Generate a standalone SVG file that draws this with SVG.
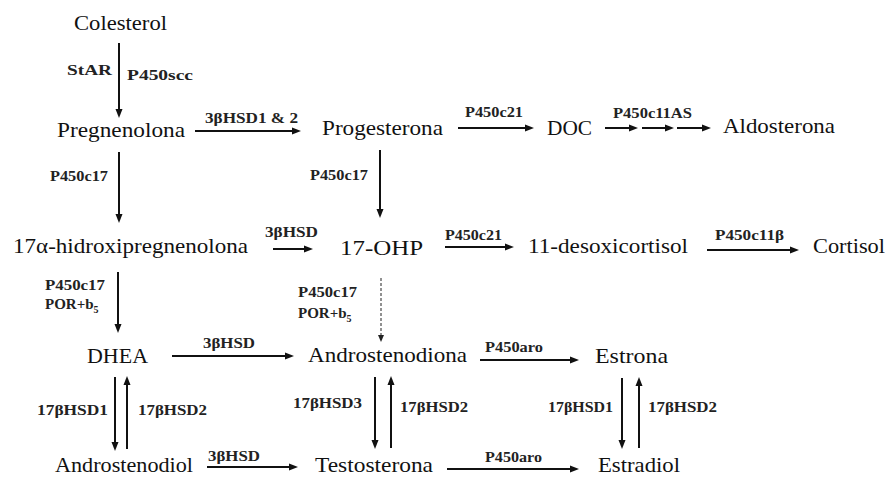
<svg xmlns="http://www.w3.org/2000/svg" width="888" height="478" viewBox="0 0 888 478">
<defs>
<marker id="ah" markerUnits="userSpaceOnUse" markerWidth="10" markerHeight="8" refX="1" refY="4" orient="auto">
<path d="M0,0.5 L9,4 L0,7.5 z" fill="#111"/>
</marker>
<marker id="ahs" markerUnits="userSpaceOnUse" markerWidth="8" markerHeight="8" refX="1" refY="4" orient="auto">
<path d="M0,1 L7,4 L0,7 z" fill="#222"/>
</marker>
<style>
text{font-family:'Liberation Serif','DejaVu Serif','Noto Serif','Times New Roman',serif}
.n{font-size:22px;fill:#111}
.e{font-size:15px;font-weight:bold;fill:#222}
.a{stroke:#111;stroke-width:2;fill:none;marker-end:url(#ah)}
.d{stroke:#222;stroke-width:1;fill:none;stroke-dasharray:3,2;marker-end:url(#ahs)}
</style>
</defs>
<rect width="888" height="478" fill="#fff"/>
<g id="connectors">
<line class="a" x1="119" y1="43" x2="119" y2="110"/>
<line class="a" x1="195" y1="131" x2="293" y2="131"/>
<line class="a" x1="458" y1="128" x2="526" y2="128"/>
<line class="a" x1="605" y1="128" x2="630" y2="128"/>
<line class="a" x1="642" y1="128" x2="666" y2="128"/>
<line class="a" x1="677" y1="128" x2="703" y2="128"/>
<line class="a" x1="119" y1="152" x2="119" y2="215"/>
<line class="a" x1="380" y1="150" x2="380" y2="210"/>
<line class="a" x1="273" y1="249" x2="305" y2="249"/>
<line class="a" x1="445" y1="247" x2="506" y2="247"/>
<line class="a" x1="707" y1="250" x2="791" y2="250"/>
<line class="a" x1="118" y1="272" x2="118" y2="325"/>
<line class="d" x1="381" y1="278" x2="381" y2="336"/>
<line class="a" x1="172" y1="356" x2="286" y2="356"/>
<line class="a" x1="480" y1="360" x2="571" y2="360"/>
<line class="a" x1="115" y1="377" x2="115" y2="443"/>
<line class="a" x1="127" y1="449" x2="127" y2="384"/>
<line class="a" x1="375" y1="377" x2="375" y2="441"/>
<line class="a" x1="391" y1="448" x2="391" y2="384"/>
<line class="a" x1="622" y1="378" x2="622" y2="441"/>
<line class="a" x1="639" y1="448" x2="639" y2="385"/>
<line class="a" x1="207" y1="467" x2="290" y2="467"/>
<line class="a" x1="447" y1="469" x2="571" y2="469"/>
</g>
<g id="labels">
<text class="e" x="67" y="75" textLength="45" lengthAdjust="spacingAndGlyphs">StAR</text>
<text class="e" x="127" y="80" textLength="66" lengthAdjust="spacingAndGlyphs">P450scc</text>
<text class="e" x="205" y="123" textLength="93" lengthAdjust="spacingAndGlyphs">3βHSD1 &amp; 2</text>
<text class="e" x="465" y="117" textLength="58" lengthAdjust="spacingAndGlyphs">P450c21</text>
<text class="e" x="613" y="118" textLength="79" lengthAdjust="spacingAndGlyphs">P450c11AS</text>
<text class="e" x="50" y="181" textLength="58" lengthAdjust="spacingAndGlyphs">P450c17</text>
<text class="e" x="310" y="180" textLength="58" lengthAdjust="spacingAndGlyphs">P450c17</text>
<text class="e" x="265" y="237" textLength="53" lengthAdjust="spacingAndGlyphs">3βHSD</text>
<text class="e" x="445" y="240" textLength="57" lengthAdjust="spacingAndGlyphs">P450c21</text>
<text class="e" x="715" y="240" textLength="69" lengthAdjust="spacingAndGlyphs">P450c11β</text>
<text class="e" x="45" y="290" textLength="60" lengthAdjust="spacingAndGlyphs">P450c17</text>
<text class="e" x="45" y="309">POR+b<tspan font-size="10" dy="4">5</tspan></text>
<text class="e" x="298" y="297" textLength="59" lengthAdjust="spacingAndGlyphs">P450c17</text>
<text class="e" x="298" y="318">POR+b<tspan font-size="10" dy="4">5</tspan></text>
<text class="e" x="203" y="348" textLength="52" lengthAdjust="spacingAndGlyphs">3βHSD</text>
<text class="e" x="485" y="352" textLength="58" lengthAdjust="spacingAndGlyphs">P450aro</text>
<text class="e" x="37" y="415" textLength="71" lengthAdjust="spacingAndGlyphs">17βHSD1</text>
<text class="e" x="138" y="415" textLength="69" lengthAdjust="spacingAndGlyphs">17βHSD2</text>
<text class="e" x="293" y="408" textLength="69" lengthAdjust="spacingAndGlyphs">17βHSD3</text>
<text class="e" x="400" y="412" textLength="68" lengthAdjust="spacingAndGlyphs">17βHSD2</text>
<text class="e" x="208" y="461" textLength="52" lengthAdjust="spacingAndGlyphs">3βHSD</text>
<text class="e" x="485" y="462" textLength="57" lengthAdjust="spacingAndGlyphs">P450aro</text>
<text class="e" x="548" y="412" textLength="65" lengthAdjust="spacingAndGlyphs">17βHSD1</text>
<text class="e" x="648" y="412" textLength="69" lengthAdjust="spacingAndGlyphs">17βHSD2</text>
</g>
<g id="colesterol"><text class="n" x="74" y="30" textLength="93" lengthAdjust="spacingAndGlyphs">Colesterol</text></g>
<g id="pregnenolona"><text class="n" x="57" y="137" textLength="128" lengthAdjust="spacingAndGlyphs">Pregnenolona</text></g>
<g id="progesterona"><text class="n" x="322" y="135" textLength="121" lengthAdjust="spacingAndGlyphs">Progesterona</text></g>
<g id="doc"><text class="n" x="547" y="135" textLength="45" lengthAdjust="spacingAndGlyphs">DOC</text></g>
<g id="aldosterona"><text class="n" x="723" y="133" textLength="112" lengthAdjust="spacingAndGlyphs">Aldosterona</text></g>
<g id="hidroxipregnenolona"><text class="n" x="13" y="253" textLength="235" lengthAdjust="spacingAndGlyphs">17α-hidroxipregnenolona</text></g>
<g id="ohp"><text class="n" x="340" y="255" textLength="83" lengthAdjust="spacingAndGlyphs">17-OHP</text></g>
<g id="desoxicortisol"><text class="n" x="528" y="253" textLength="160" lengthAdjust="spacingAndGlyphs">11-desoxicortisol</text></g>
<g id="cortisol"><text class="n" x="813" y="253" textLength="72" lengthAdjust="spacingAndGlyphs">Cortisol</text></g>
<g id="dhea"><text class="n" x="87" y="363" textLength="61" lengthAdjust="spacingAndGlyphs">DHEA</text></g>
<g id="androstenodiona"><text class="n" x="308" y="362" textLength="159" lengthAdjust="spacingAndGlyphs">Androstenodiona</text></g>
<g id="estrona"><text class="n" x="595" y="363" textLength="73" lengthAdjust="spacingAndGlyphs">Estrona</text></g>
<g id="androstenodiol"><text class="n" x="55" y="472" textLength="138" lengthAdjust="spacingAndGlyphs">Androstenodiol</text></g>
<g id="testosterona"><text class="n" x="315" y="472" textLength="118" lengthAdjust="spacingAndGlyphs">Testosterona</text></g>
<g id="estradiol"><text class="n" x="598" y="472" textLength="82" lengthAdjust="spacingAndGlyphs">Estradiol</text></g>
</svg>
